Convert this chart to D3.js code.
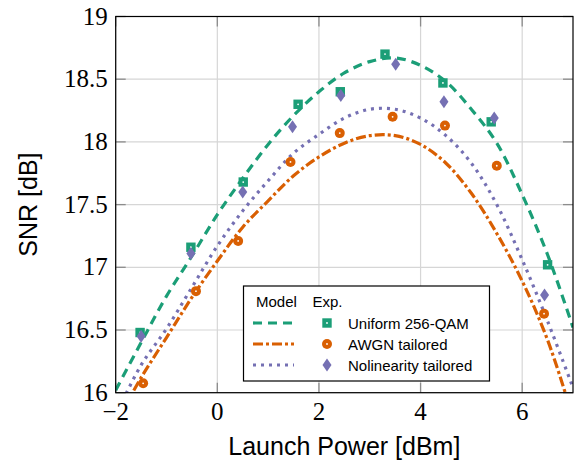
<!DOCTYPE html>
<html>
<head>
<meta charset="utf-8">
<script src="https://cdn.jsdelivr.net/npm/d3@7"></script>
<style>
  body { margin: 0; background: #fff; }
  svg { display: block; }
  .tick-label { font-family: "Liberation Serif", "DejaVu Serif", serif; font-size: 25px; fill: #000; }
  .axis-title { font-family: "Liberation Sans", Arial, sans-serif; font-size: 25px; fill: #000; }
  .legend-text { font-family: "Liberation Sans", Arial, sans-serif; font-size: 15px; fill: #000; }
</style>
</head>
<body>
<svg width="579" height="469"></svg>
<script>
// measured points
const uniformX = [-1.52, -0.52, 0.51, 1.59, 2.42, 3.30, 4.44, 5.39, 6.50];
const uniformY = [16.48, 17.16, 17.68, 18.30, 18.40, 18.70, 18.47, 18.16, 17.02];
const awgnX = [-1.46, -0.42, 0.41, 1.44, 2.41, 3.45, 4.48, 5.50, 6.43];
const awgnY = [16.075, 16.81, 17.21, 17.84, 18.07, 18.20, 18.13, 17.81, 16.63];
const nonlinX = [-1.50, -0.52, 0.50, 1.48, 2.43, 3.51, 4.46, 5.45, 6.44];
const nonlinY = [16.45, 17.11, 17.60, 18.12, 18.37, 18.62, 18.32, 18.19, 16.78];

// model curves
const modelX = [-2, -1.5, -1, -0.5, 0, 0.5, 1, 1.5, 2, 2.5, 3, 3.5, 4, 4.5, 5, 5.5, 6, 6.5, 7];
const uniformModel = [16.02, 16.40, 16.77, 17.09, 17.42, 17.71, 17.98, 18.21, 18.40, 18.55, 18.64, 18.67, 18.61, 18.48, 18.26, 17.99, 17.58, 17.10, 16.52];
const awgnModel = [15.75, 16.12, 16.44, 16.76, 17.05, 17.32, 17.53, 17.73, 17.88, 17.99, 18.05, 18.05, 17.98, 17.83, 17.59, 17.27, 16.89, 16.42, 15.80];
const nonlinModel = [15.82, 16.22, 16.51, 16.84, 17.17, 17.45, 17.69, 17.91, 18.06, 18.19, 18.26, 18.26, 18.19, 18.05, 17.83, 17.50, 17.06, 16.57, 16.04];

const xTicks = [-2, 0, 2, 4, 6];
const yTicks = [16, 16.5, 17, 17.5, 18, 18.5, 19];
const legendLabels = ["Uniform 256-QAM", "AWGN tailored", "Nolinearity tailored"];

const green = "#1b9e77", orange = "#d95f02", purple = "#7570b3";

const svg = d3.select("svg");

const x = d3.scaleLinear().domain([-2, 7]).range([115.7, 573]);
const y = d3.scaleLinear().domain([16, 19]).range([392.7, 16.5]);

const [x0, x1] = x.range();
const [y0, y1] = y.range();

svg.append("clipPath").attr("id", "clip")
  .append("rect")
  .attr("x", x0).attr("y", y1)
  .attr("width", x1 - x0).attr("height", y0 - y1);

// grid
const grid = svg.append("g");
grid.selectAll(".gx")
  .data(d3.range(-2, 8, 2))
  .enter().append("line")
  .attr("x1", d => x(d)).attr("x2", d => x(d))
  .attr("y1", y0).attr("y2", y1)
  .attr("stroke", "#d6d6d6").attr("stroke-width", 1.2);
grid.selectAll(".gy")
  .data(yTicks)
  .enter().append("line")
  .attr("x1", x0).attr("x2", x1)
  .attr("y1", d => y(d)).attr("y2", d => y(d))
  .attr("stroke", "#d6d6d6").attr("stroke-width", 1.2);

// ticks (inside, all four sides)
const tk = 10;
const ticks = svg.append("g").attr("stroke", "#8c8c8c").attr("stroke-width", 1.3);
xTicks.forEach(d => {
  ticks.append("line").attr("x1", x(d)).attr("x2", x(d)).attr("y1", y0).attr("y2", y0 - tk);
  ticks.append("line").attr("x1", x(d)).attr("x2", x(d)).attr("y1", y1).attr("y2", y1 + tk);
});
yTicks.forEach(d => {
  ticks.append("line").attr("x1", x0).attr("x2", x0 + tk).attr("y1", y(d)).attr("y2", y(d));
  ticks.append("line").attr("x1", x1).attr("x2", x1 - tk).attr("y1", y(d)).attr("y2", y(d));
});

// model lines
const line = d3.line()
  .x(d => x(d[0]))
  .y(d => y(d[1]))
  .curve(d3.curveCatmullRom.alpha(0.5));

const models = [
  { vals: uniformModel, color: green, dash: "9,6" },
  { vals: awgnModel, color: orange, dash: "10,3,3,3" },
  { vals: nonlinModel, color: purple, dash: "3,5" }
];

const lines = svg.append("g").attr("clip-path", "url(#clip)");
models.forEach(m => {
  lines.append("path")
    .datum(modelX.map((v, i) => [v, m.vals[i]]))
    .attr("d", line)
    .attr("fill", "none")
    .attr("stroke", m.color)
    .attr("stroke-width", 3.2)
    .attr("stroke-dasharray", m.dash);
});

// experimental marks
function drawSquare(g, cx, cy) {
  g.append("rect").attr("x", cx - 4.7).attr("y", cy - 4.7)
    .attr("width", 9.4).attr("height", 9.4).attr("fill", green);
  g.append("circle").attr("cx", cx).attr("cy", cy).attr("r", 0.9).attr("fill", "#fff");
}
function drawCircle(g, cx, cy) {
  g.append("circle").attr("cx", cx).attr("cy", cy).attr("r", 5).attr("fill", orange);
  g.append("circle").attr("cx", cx).attr("cy", cy).attr("r", 0.9).attr("fill", "#fff");
}
function drawDiamond(g, cx, cy) {
  g.append("path")
    .attr("d", `M${cx},${cy - 6.5}L${cx + 4.5},${cy}L${cx},${cy + 6.5}L${cx - 4.5},${cy}Z`)
    .attr("fill", purple);
}

const marks = svg.append("g");
uniformX.forEach((v, i) => drawSquare(marks, x(v), y(uniformY[i])));
awgnX.forEach((v, i) => drawCircle(marks, x(v), y(awgnY[i])));
nonlinX.forEach((v, i) => drawDiamond(marks, x(v), y(nonlinY[i])));

// frame
svg.append("rect")
  .attr("x", x0).attr("y", y1)
  .attr("width", x1 - x0).attr("height", y0 - y1)
  .attr("fill", "none").attr("stroke", "#000").attr("stroke-width", 1.2);

// tick labels
svg.selectAll(".xl")
  .data(xTicks)
  .enter().append("text")
  .attr("class", "tick-label")
  .attr("x", d => x(d))
  .attr("y", y0 + 27)
  .attr("text-anchor", "middle")
  .text(d => d < 0 ? "\u2212" + Math.abs(d) : d);

svg.selectAll(".yl")
  .data(yTicks)
  .enter().append("text")
  .attr("class", "tick-label")
  .attr("x", x0 - 8)
  .attr("y", d => y(d) + 8)
  .attr("text-anchor", "end")
  .text(d => d);

svg.append("text")
  .attr("class", "axis-title")
  .attr("x", (x0 + x1) / 2)
  .attr("y", 455)
  .attr("text-anchor", "middle")
  .text("Launch Power [dBm]");

svg.append("text")
  .attr("class", "axis-title")
  .attr("transform", `translate(37,${(y0 + y1) / 2}) rotate(-90)`)
  .attr("text-anchor", "middle")
  .text("SNR [dB]");

// legend
const lg = svg.append("g");
lg.append("rect")
  .attr("x", 243.5).attr("y", 286)
  .attr("width", 246).attr("height", 95)
  .attr("fill", "#fff").attr("stroke", "#000").attr("stroke-width", 1.2);
lg.append("text").attr("class", "legend-text").attr("x", 256).attr("y", 307).text("Model");
lg.append("text").attr("class", "legend-text").attr("x", 312.5).attr("y", 307).text("Exp.");

const rowY = [323, 344, 365];
models.forEach((m, i) => {
  lg.append("line")
    .attr("x1", 253).attr("x2", 294)
    .attr("y1", rowY[i]).attr("y2", rowY[i])
    .attr("stroke", m.color).attr("stroke-width", 3.2)
    .attr("stroke-dasharray", m.dash);
  lg.append("text").attr("class", "legend-text")
    .attr("x", 348).attr("y", rowY[i] + 5.5)
    .text(legendLabels[i]);
});
drawSquare(lg, 327, rowY[0]);
drawCircle(lg, 327, rowY[1]);
drawDiamond(lg, 327, rowY[2]);
</script>
</body>
</html>
